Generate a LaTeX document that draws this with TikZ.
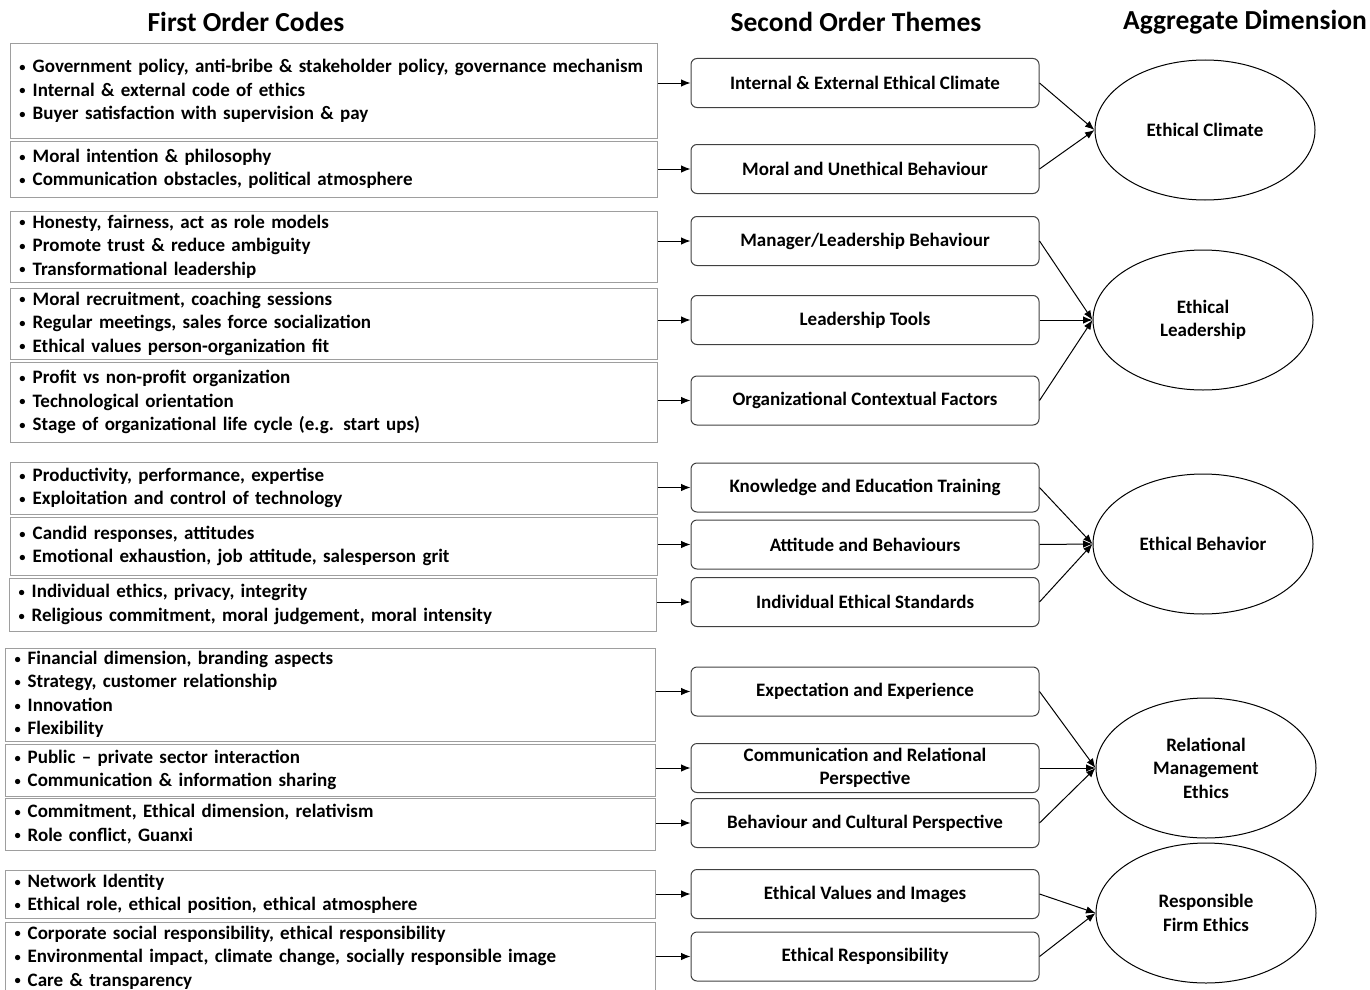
\documentclass[tikz,border=0pt]{standalone}
\usepackage{fontspec}
\setmainfont{Carlito}
\usetikzlibrary{shapes.geometric,arrows.meta}

\newcommand{\bl}{\raisebox{1.2pt}{\fontsize{12.5}{12}\selectfont\textbullet}\hspace{7pt}}

\begin{document}
\begin{tikzpicture}[x=1pt,y=-1pt,>={Latex[length=9.5pt,width=7.5pt]},
    every node/.style={font=\bfseries\fontsize{19}{23.5}\selectfont},
    head/.style={font=\bfseries\fontsize{27.5}{32}\selectfont},
    code/.style={draw=black!38,line width=1pt,text width=628pt,inner xsep=9.5pt,inner ysep=0pt,minimum height=#1,align=left},
    theme/.style={draw=black!75,line width=1pt,rounded corners=6pt,minimum width=348pt,minimum height=49pt,inner sep=0pt,align=center},
    dimen/.style={ellipse,draw,line width=1pt,minimum width=220pt,minimum height=140pt,inner sep=0pt,align=center},
    link/.style={->,line width=1pt}]
    \useasboundingbox (0,0) rectangle (1370,990);

    \node[head] (h1) at (246,22)  {First Order Codes};
    \node[head] (h2) at (856,22)  {Second Order Themes};
    \node[head] (h3) at (1245,22) {Aggregate Dimension};

    \node[code=94pt] (c1) at (333.5,91)    {\bl Government policy, anti-bribe \& stakeholder policy, governance mechanism\\ \bl Internal \& external code of ethics\\ \bl Buyer satisfaction with supervision \& pay};
    \node[code=56pt] (c2) at (333.5,169)   {\bl Moral intention \& philosophy\\ \bl Communication obstacles, political atmosphere};
    \node[code=71pt] (c3) at (333.5,246.5) {\bl Honesty, fairness, act as role models\\ \bl Promote trust \& reduce ambiguity\\ \bl Transformational leadership};
    \node[code=71pt] (c4) at (333.5,323.5) {\bl Moral recruitment, coaching sessions\\ \bl Regular meetings, sales force socialization\\ \bl Ethical values person-organization fit};
    \node[code=80pt] (c5) at (333.5,402)   {\bl Profit vs non-profit organization\\ \bl Technological orientation\\ \bl Stage of organizational life cycle (e.g. start ups)};
    \node[code=52pt] (c6) at (333.5,488)   {\bl Productivity, performance, expertise\\ \bl Exploitation and control of technology};
    \node[code=58pt] (c7) at (333.5,546)   {\bl Candid responses, attitudes\\ \bl Emotional exhaustion, job attitude, salesperson grit};
    \node[code=53pt] (c8) at (332.5,604.5) {\bl Individual ethics, privacy, integrity\\ \bl Religious commitment, moral judgement, moral intensity};
    \node[code=93pt,text width=631pt] (c9)  at (330,694.5) {\bl Financial dimension, branding aspects\\ \bl Strategy, customer relationship\\ \bl Innovation\\ \bl Flexibility};
    \node[code=52pt,text width=631pt] (c10) at (330,770)   {\bl Public -- private sector interaction\\ \bl Communication \& information sharing};
    \node[code=52pt,text width=631pt] (c11) at (330,824)   {\bl Commitment, Ethical dimension, relativism\\ \bl Role conflict, Guanxi};
    \node[code=48pt,text width=631pt] (c12) at (330,894)   {\bl Network Identity\\ \bl Ethical role, ethical position, ethical atmosphere};
    \node[code=71pt,text width=631pt] (c13) at (330,957.5) {\bl Corporate social responsibility, ethical responsibility\\ \bl Environmental impact, climate change, socially responsible image\\ \bl Care \& transparency};

    \node[theme] (t1)  at (865,83)    {Internal \& External Ethical Climate};
    \node[theme] (t2)  at (865,169)   {Moral and Unethical Behaviour};
    \node[theme] (t3)  at (865,241)   {Manager/Leadership Behaviour};
    \node[theme] (t4)  at (865,320)   {Leadership Tools};
    \node[theme] (t5)  at (865,400.5) {Organizational Contextual Factors};
    \node[theme] (t6)  at (865,487.5) {Knowledge and Education Training};
    \node[theme] (t7)  at (865,544.5) {Attitude and Behaviours};
    \node[theme] (t8)  at (865,602)   {Individual Ethical Standards};
    \node[theme] (t9)  at (865,691.5) {Expectation and Experience};
    \node[theme] (t10) at (865,768)   {Communication and Relational\\Perspective};
    \node[theme] (t11) at (865,823)   {Behaviour and Cultural Perspective};
    \node[theme] (t12) at (865,894)   {Ethical Values and Images};
    \node[theme] (t13) at (865,956.5) {Ethical Responsibility};

    \node[dimen] (d1) at (1205,130) {Ethical Climate};
    \node[dimen] (d2) at (1203,320) {Ethical\\Leadership};
    \node[dimen] (d3) at (1203,544) {Ethical Behavior};
    \node[dimen] (d4) at (1206,768) {Relational\\Management\\Ethics};
    \node[dimen] (d5) at (1206,913) {Responsible\\Firm Ethics};

    \foreach \i in {1,...,13}
        \draw[link] (c\i.east |- t\i) -- (t\i);

    \foreach \i/\j in {1/1,2/1,3/2,4/2,5/2,6/3,7/3,8/3,9/4,10/4,11/4,12/5,13/5}
        \draw[link] (t\i.east) -- (d\j.west);
\end{tikzpicture}
\end{document}
